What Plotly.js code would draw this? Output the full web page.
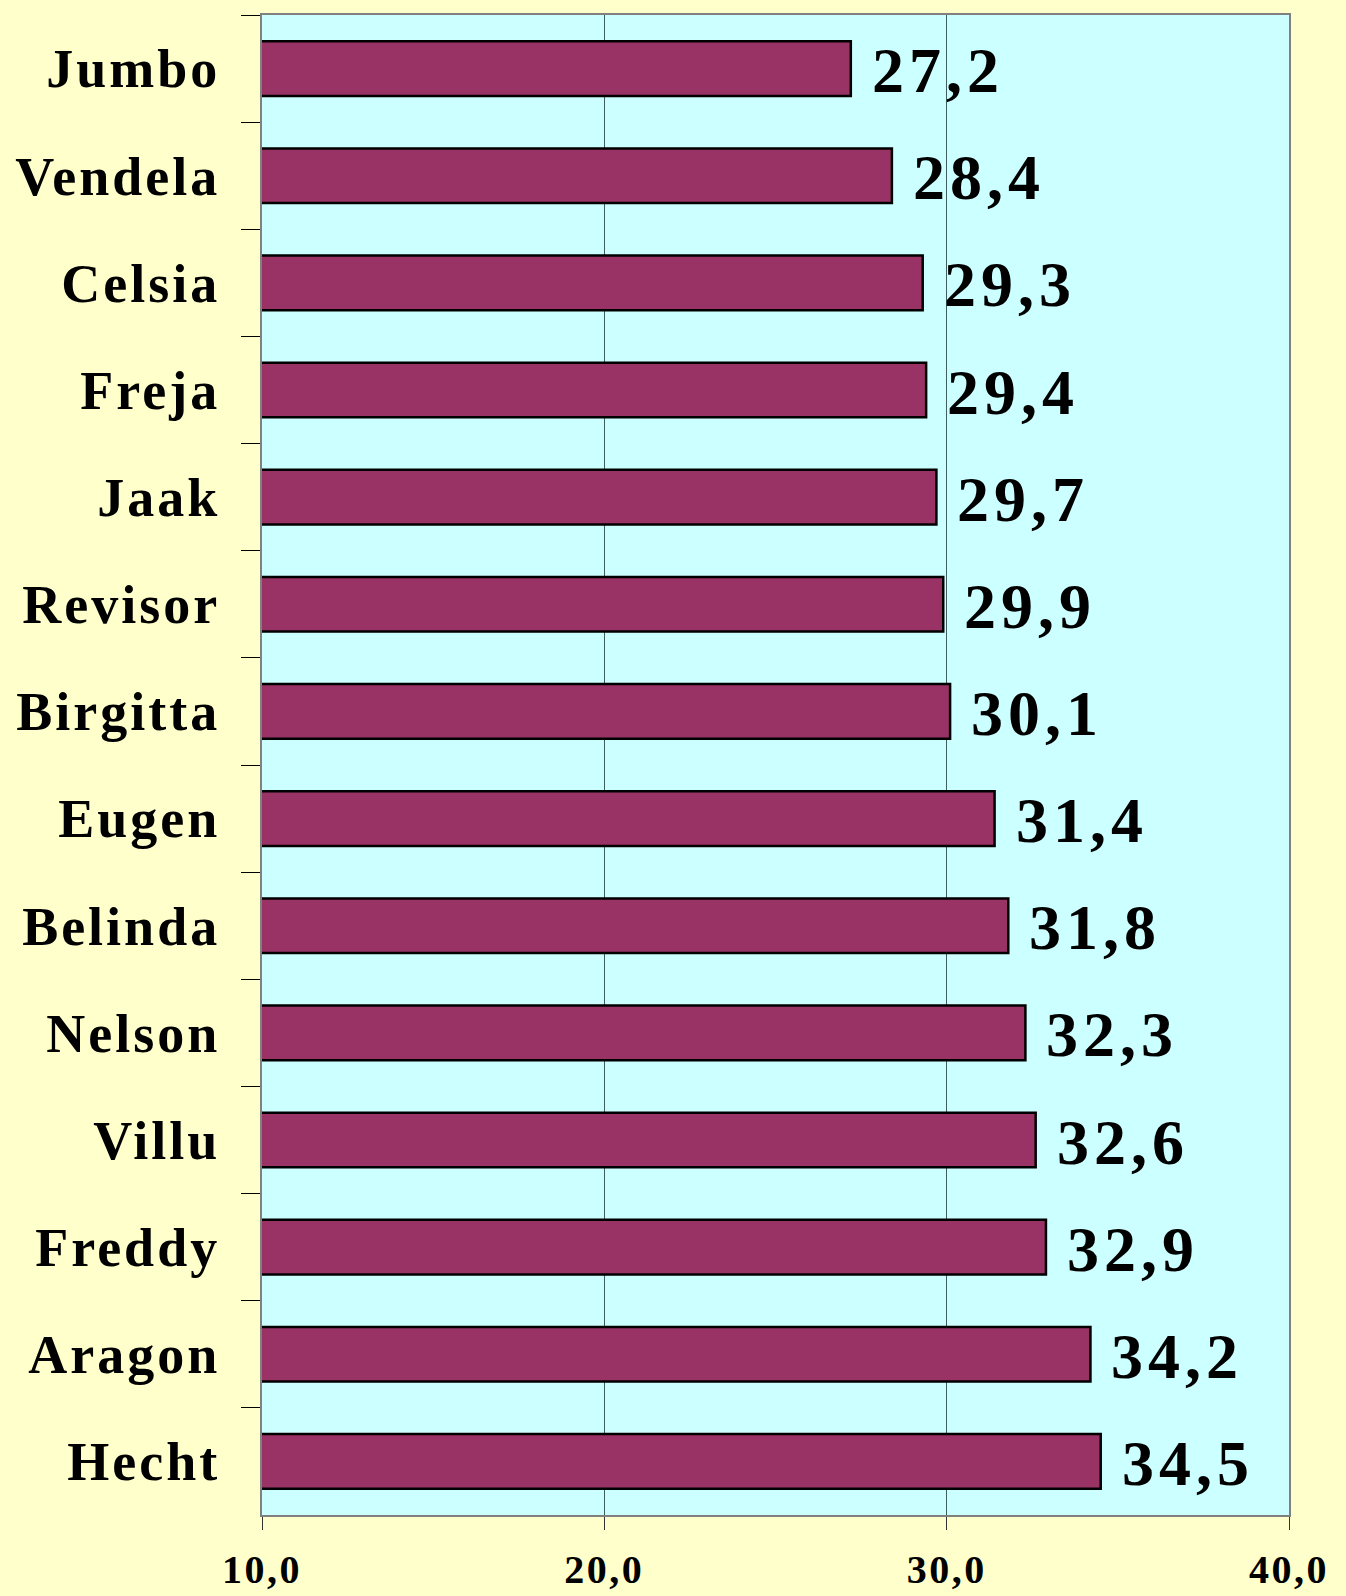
<!DOCTYPE html>
<html>
<head>
<meta charset="utf-8">
<script src="https://cdn.plot.ly/plotly-3.0.1.min.js"></script>
<style>
html,body{margin:0;padding:0;background:#FFFFCC;}
#chart{width:1346px;height:1596px;}
#chart .ytick text{letter-spacing:3px;}
#chart .xtick text{letter-spacing:2.5px;}
#chart .annotation-text{letter-spacing:5px;}
</style>
</head>
<body>
<div id="chart"></div>
<script>
const categories = ["Jumbo","Vendela","Celsia","Freja","Jaak","Revisor","Birgitta","Eugen","Belinda","Nelson","Villu","Freddy","Aragon","Hecht"];
const values = [27.2, 28.4, 29.3, 29.4, 29.7, 29.9, 30.1, 31.4, 31.8, 32.3, 32.6, 32.9, 34.2, 34.5];
const xTicks = [10, 20, 30, 40];

const fmt = v => v.toFixed(1).replace('.', ',');

const trace = {
  type: 'bar',
  orientation: 'h',
  x: values,
  y: categories,
  base: 0,
  width: 0.51,
  marker: {color: '#993366', line: {color: '#000000', width: 2.5}},
  hoverinfo: 'skip'
};

const annotations = values.map((v, i) => ({
  x: v, y: categories[i], xref: 'x', yref: 'y',
  text: fmt(v), showarrow: false, xanchor: 'left', yanchor: 'middle',
  xshift: 29, yshift: -2,
  font: {family: 'Liberation Serif, Times New Roman, serif', size: 64, weight: 'bold', color: '#000000'}
}));

const layout = {
  width: 1346, height: 1596,
  paper_bgcolor: '#FFFFCC',
  plot_bgcolor: '#CCFFFF',
  margin: {l: 262, r: 57, t: 15, b: 81},
  separators: ',.',
  showlegend: false,
  bargap: 0.49,
  xaxis: {
    range: [10, 40],
    tickvals: xTicks,
    tickformat: '.1f',
    showgrid: true, gridcolor: '#3f5f5f', gridwidth: 1,
    zeroline: false,
    showline: true, linecolor: '#808080', linewidth: 2, mirror: true,
    ticks: 'outside', ticklen: 13, tickcolor: '#333333', tickwidth: 1,
    ticklabelstandoff: 5,
    tickfont: {family: 'Liberation Serif, Times New Roman, serif', size: 40, weight: 'bold', color: '#000000'},
    fixedrange: true
  },
  yaxis: {
    type: 'category',
    autorange: 'reversed',
    showgrid: false,
    showline: true, linecolor: '#808080', linewidth: 2, mirror: true,
    ticks: 'outside', ticklen: 19, tickcolor: '#000000', tickwidth: 1,
    tickson: 'boundaries',
    ticklabelstandoff: 29,
    tickfont: {family: 'Liberation Serif, Times New Roman, serif', size: 54, weight: 'bold', color: '#000000'},
    fixedrange: true
  },
  annotations: annotations
};

Plotly.newPlot('chart', [trace], layout, {displayModeBar: false, staticPlot: true});
</script>
</body>
</html>
